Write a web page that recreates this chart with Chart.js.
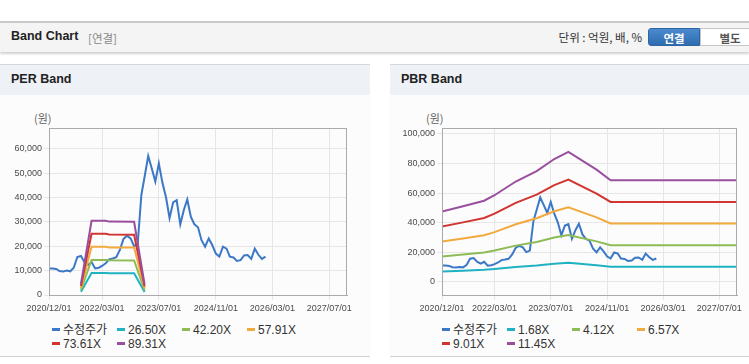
<!DOCTYPE html>
<html><head><meta charset="utf-8">
<script src="https://cdn.jsdelivr.net/npm/chart.js@4/dist/chart.umd.min.js"></script>
<style>
body{margin:0;background:#fff;width:749px;height:364px;overflow:hidden;position:relative;font-family:"Liberation Sans","Noto Sans CJK KR",Arial,sans-serif;}
.abs{position:absolute;}
#hdr{left:0;top:21px;width:749px;height:29px;background:#f4f4f4;border-top:2px solid #c9c9c9;box-shadow:0 2px 2px rgba(0,0,0,0.18);}
#hdr .t{left:11px;top:6px;font-weight:bold;font-size:12.5px;color:#222;}
#hdr .s{left:88px;top:7px;font-size:11.5px;color:#888;font-family:"Noto Sans CJK KR",sans-serif;line-height:16px;}
#hdr .u{right:107px;top:6px;font-size:11.5px;color:#333;font-family:"Noto Sans CJK KR",sans-serif;line-height:16px;}
.btn{top:5px;height:18px;line-height:18px;text-align:center;font-size:11.5px;font-weight:bold;font-family:"Noto Sans CJK KR",sans-serif;box-sizing:border-box;}
#b1{left:648px;width:52px;background:linear-gradient(#4a8ad0,#2e6cae);color:#fff;border-radius:3px 0 0 3px;border:1px solid #2e65a3;}
#b2{left:700px;width:60px;background:#fff;color:#555;border:1px solid #c5c5c5;}
.panel{top:64px;height:292px;background:#fcfcfc;border-bottom:1px solid #d0d0d0;}
.ptitle{left:0;top:0;right:0;height:30px;background:#eef1f6;border-top:1px solid #d5d5d5;}
.ptitle span{position:absolute;left:11px;top:7px;font-weight:bold;font-size:12.5px;color:#222;}
.unit{font-size:11px;color:#666;font-family:"Noto Sans CJK KR",sans-serif;}
.legend{font-size:12px;color:#333;}
.legend .it{position:absolute;white-space:nowrap;height:14px;line-height:14px;}
.legend .mk{display:inline-block;width:8px;height:3px;vertical-align:middle;margin-right:3px;margin-top:-2px;}
</style></head>
<body>
<div id="hdr" class="abs">
  <div class="abs t">Band Chart</div>
  <div class="abs s">[연결]</div>
  <div class="abs u">단위 : 억원, 배, %</div>
  <div id="b1" class="abs btn">연결</div>
  <div id="b2" class="abs btn">별도</div>
</div>
<div class="abs panel" style="left:0;width:370px;"><div class="abs ptitle"><span>PER Band</span></div></div>
<div class="abs panel" style="left:390px;width:359px;"><div class="abs ptitle"><span>PBR Band</span></div></div>
<div class="abs unit" style="left:34px;top:110px;">(원)</div>
<div class="abs unit" style="left:426px;top:110px;">(원)</div>
<canvas id="c1" class="abs" width="370" height="220" style="left:0;top:100px;"></canvas>
<canvas id="c2" class="abs" width="359" height="220" style="left:390px;top:100px;"></canvas>
<div id="lg1" class="abs legend" style="left:52px;top:323px;width:300px;height:30px;"></div>
<div id="lg2" class="abs legend" style="left:442px;top:323px;width:300px;height:30px;"></div>
<script>
// ---- data ----
const tickLabels = ['2020/12/01','2022/03/01','2023/07/01','2024/11/01','2026/03/01','2027/07/01'];
const axisEnd = '2027/12/01';
const priceDates = ['2020/12','2021/01','2021/02','2021/03','2021/04','2021/05','2021/06','2021/07','2021/08','2021/09','2021/10','2021/11',
 '2021/12','2022/01','2022/02','2022/03','2022/04','2022/05','2022/06','2022/07','2022/08','2022/09','2022/10','2022/11',
 '2022/12','2023/01','2023/02','2023/03','2023/04','2023/05','2023/06','2023/07','2023/08','2023/09','2023/10','2023/11',
 '2023/12','2024/01','2024/02','2024/03','2024/04','2024/05','2024/06','2024/07','2024/08','2024/09','2024/10','2024/11',
 '2024/12','2025/01','2025/02','2025/03','2025/04','2025/05','2025/06','2025/07','2025/08','2025/09','2025/10','2025/11',
 '2025/12','2026/01'];
const price = [10900,10900,10700,9800,9600,10000,9700,11200,15600,16000,13500,12300,
 13500,10900,11200,11900,13000,14600,15000,15500,18500,23000,24300,23200,
 20000,21000,41000,48500,57000,52000,46500,54000,46000,40000,31500,38000,
 38900,29000,35000,39200,32000,29000,27800,22500,19800,23200,20500,17000,
 15800,19800,19000,15700,15400,14000,14300,16200,16400,14800,19000,16500,
 14800,15700];

const perDates = ['2021/09','2021/12','2022/04','2022/05','2022/12','2023/03'];
const perNames = ['26.50X','42.20X','57.91X','73.61X','89.31X'];
const per1 = [1335,9035,9035,8931,8902,1276];
const per2 = [2126,14388,14388,14223,14175,2032];
const per3 = [2918,19744,19744,19517,19453,2788];
const per4 = [3709,25097,25097,24809,24726,3544];
const per5 = [4500,30450,30450,30100,30000,4300];

const pbrDates = ['2020/12','2021/06','2021/12','2022/03','2022/09','2023/03','2023/08','2023/12','2024/08','2024/12','2027/12'];
const pbrNames = ['1.68X','4.12X','6.57X','9.01X','11.45X'];
const pbr1 = [6970,7480,8040,8580,9950,10980,12180,12880,11120,10070,10070];
const pbr2 = [17090,18350,19720,21050,24400,26920,29870,31590,27280,24680,24680];
const pbr3 = [27260,29260,31440,33570,38900,42920,47630,50380,43490,39360,39360];
const pbr4 = [37380,40130,43120,46030,53350,58860,65310,69090,59650,53980,53980];
const pbr5 = [47500,51000,54800,58500,67800,74800,83000,87800,75800,68600,68600];

const colors = ['#3b78c6','#1fb2c3','#8dbb55','#f2a93d','#d03530','#9a4f9e'];
const priceName = '수정주가';

// ---- helpers ----
const D0 = Date.UTC(2020,11,1);
function toDay(s){const p=s.split('/');return (Date.UTC(+p[0],+p[1]-1,p[2]?+p[2]:1)-D0)/86400000;}
function pts(dates, vals){return dates.map((d,i)=>({x:toDay(d),y:vals[i]}));}
const tickFont = {family:'"Liberation Sans", Arial, sans-serif', size:9};

const framePlugin = {id:'frame', afterDatasetsDraw(chart){
  const {ctx, chartArea:a} = chart; ctx.save(); ctx.strokeStyle='#aaaaaa'; ctx.lineWidth=1;
  ctx.strokeRect(Math.round(a.left)+0.5, Math.round(a.top)+0.5, Math.round(a.right-a.left)-1, Math.round(a.bottom-a.top));
  ctx.restore();}};

function makeChart(id, bands, bandDates, names, yMin, yMax, step, yWidth, padRight){
  const ds = [{label:priceName, data:pts(priceDates, price), borderColor:colors[0], order:10}];
  bands.forEach((b,i)=>ds.push({label:names[i], data:pts(bandDates,b), borderColor:colors[i+1], order:5-i}));
  ds.forEach(d=>{d.borderWidth=2; d.pointRadius=0; d.tension=0; d.fill=false;});
  return new Chart(document.getElementById(id), {
    type:'line', data:{datasets:ds}, plugins:[framePlugin],
    options:{responsive:false, animation:false, devicePixelRatio:1,
      layout:{padding:{left:0, top:28, right:padRight, bottom:0}},
      plugins:{legend:{display:false}, tooltip:{enabled:false}},
      scales:{
        x:{type:'linear', min:0, max:toDay(axisEnd),
           afterBuildTicks:s=>{s.ticks=tickLabels.map(t=>({value:toDay(t)}));},
           afterFit:s=>{s.height=25;},
           ticks:{autoSkip:false, maxRotation:0, font:tickFont, color:'#4a4a4a', padding:3,
                  callback:(v,i)=>tickLabels[i]},
           grid:{color:'#e6e6e6', tickLength:5}, border:{color:'#aaaaaa'}},
        y:{min:yMin, max:yMax,
           afterBuildTicks:s=>{const t=[];for(let v=Math.ceil(yMin/step)*step+0; v<=yMax; v+=step) t.push({value:v+0}); s.ticks=t;},
           afterFit:s=>{s.width=yWidth;},
           ticks:{autoSkip:false, font:tickFont, color:'#4a4a4a', padding:2,
                  callback:v=>Math.abs(v)<1e-9 ? '0' : Number(v).toLocaleString('en-US')},
           grid:{color:'#e6e6e6', tickLength:5}, border:{color:'#aaaaaa'}}
      }}
  });
}
const ch1 = makeChart('c1', [per1,per2,per3,per4,per5], perDates, perNames, 0, 68500, 10000, 49, 23);
const ch2 = makeChart('c2', [pbr1,pbr2,pbr3,pbr4,pbr5], pbrDates, pbrNames, -9000, 104000, 20000, 52, 12);

function legend(chart, id){
  const el = document.getElementById(id);
  chart.data.datasets.forEach((d,i)=>{
    const it = document.createElement('div'); it.className='it';
    it.style.left = (i%4)*65+'px'; it.style.top = Math.floor(i/4)*14+'px';
    const mk = document.createElement('span'); mk.className='mk'; mk.style.background=d.borderColor;
    it.appendChild(mk); it.appendChild(document.createTextNode(d.label)); el.appendChild(it);
  });
}
legend(ch1,'lg1'); legend(ch2,'lg2');
</script>
</body></html>
